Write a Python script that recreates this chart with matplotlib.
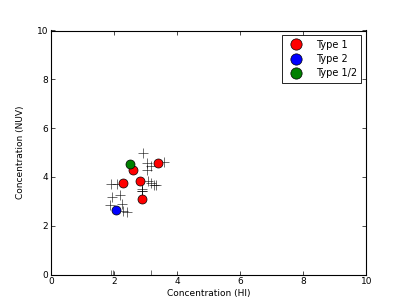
import numpy as np
import matplotlib.pyplot as plt

# Type 1 sources
t1_x = [3.40, 2.60, 2.83, 2.28, 2.90]
t1_y = [4.58, 4.30, 3.85, 3.74, 3.10]
# Type 2
t2_x = [2.05]
t2_y = [2.65]
# Type 1/2
t12_x = [2.51]
t12_y = [4.51]

# background sample (plus markers)
bg_x = [2.93, 3.04, 3.17, 3.05, 3.58, 3.09, 3.28, 2.90, 1.91, 2.09,
        2.88, 1.93, 2.19, 1.88, 2.24, 2.30, 2.40, 3.33, 3.16, 2.88,
        1.91, 1.98, 3.17]
bg_y = [4.99, 4.58, 4.45, 4.30, 4.63, 3.82, 3.68, 3.51, 3.69, 3.72,
        3.44, 3.17, 3.24, 2.83, 2.90, 2.62, 2.55, 3.65, 3.74, 3.44,
        0.0, 0.0, 0.0]

plt.rcParams['font.size'] = 6.5
plt.rcParams['xtick.direction'] = 'in'
plt.rcParams['ytick.direction'] = 'in'

fig = plt.figure(figsize=(4.07, 3.05), dpi=100)
ax = fig.add_subplot(111)
fig.subplots_adjust(left=0.125, right=0.9, bottom=0.1, top=0.9)

ax.plot(bg_x, bg_y, '+', color='k', ms=7, mew=0.5, alpha=0.8)
ax.plot(t1_x, t1_y, 'o', color='r', mec='k', mew=0.5, ms=6.5, label='Type 1')
ax.plot(t2_x, t2_y, 'o', color='b', mec='k', mew=0.5, ms=6.5, label='Type 2')
ax.plot(t12_x, t12_y, 'o', color='g', mec='k', mew=0.5, ms=6.5, label='Type 1/2')

ax.set_xlim(0, 10)
ax.set_ylim(0, 10)
ax.set_xticks([0, 2, 4, 6, 8, 10])
ax.set_yticks([0, 2, 4, 6, 8, 10])
ax.tick_params(top=True, right=True, length=3, width=0.5, pad=2)
for s in ax.spines.values():
    s.set_linewidth(0.8)
ax.set_xlabel('Concentration (HI)', labelpad=2)
ax.set_ylabel('Concentration (NUV)', labelpad=8)

leg = ax.legend(loc='upper right', numpoints=1, fancybox=False, fontsize=7,
                framealpha=1, edgecolor='k', borderpad=0.45, labelspacing=0.45,
                handletextpad=1.0, markerscale=1.25)
leg.get_frame().set_linewidth(0.6)

fig.savefig('out.png', dpi=100)
